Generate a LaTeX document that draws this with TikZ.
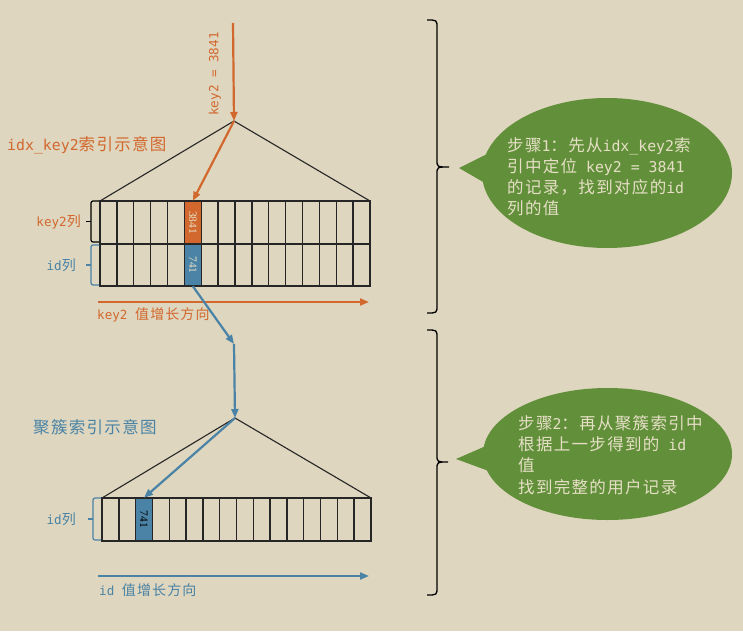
\documentclass[tikz,border=0pt]{standalone}
\usepackage{fontspec}
\usepackage{graphicx}
\setmainfont{Noto Sans CJK SC}[LetterSpace=8]
\newfontfamily\monof{DejaVu Sans Mono}[Scale=0.9]
\newfontfamily\numf{Liberation Serif}
\usetikzlibrary{arrows.meta,shapes.geometric}
\newcommand{\ml}[1]{{\monof #1}}
\newcommand{\fbig}{\fontsize{16.5}{21.3}\selectfont}
\newcommand{\fsmall}{\fontsize{14}{16}\selectfont}
\newcommand{\fnum}{\numf\fontsize{11.5}{11.5}\selectfont}
\definecolor{bg}{HTML}{DED6BE}
\definecolor{orA}{HTML}{D2682E}
\definecolor{blA}{HTML}{4A83A6}
\definecolor{grA}{HTML}{62903A}
\definecolor{txA}{HTML}{E6DFC6}
\definecolor{gridc}{HTML}{262626}
\begin{document}
\begin{tikzpicture}[x=1pt,y=-1pt,
  arrO/.style={draw=orA,line width=2.2pt,-{Triangle[length=9pt,width=7pt]}},
  arrB/.style={draw=blA,line width=2.2pt,-{Triangle[length=9pt,width=7pt]}},
  gridl/.style={draw=gridc,line width=1.4pt},
  tri/.style={draw=black!85,line width=1.1pt},
  cellbox/.style={inner sep=0pt,minimum height=43pt},
  lbl/.style={inner sep=0pt,font=\fsmall},
  head/.style={inner sep=0pt,font=\fbig},
  bubtext/.style={inner sep=0pt,align=left,text=txA,font=\fbig,anchor=north west},
  brc/.style={line width=1.2pt,rounded corners=2pt}]
\fill[bg] (0,0) rectangle (743,631);
\useasboundingbox (0,0) rectangle (743,631);

% ---------- upper index (idx_key2) ----------
\node[head,text=orA,anchor=west] (headA) at (7,145) {\ml{idx\_key2}索引示意图};
\coordinate (apexA) at (234,121);
\coordinate (topA) at (233,23);
\draw[tri] (100,201) -- (apexA) -- (370,201);
\node[cellbox,fill=orA,minimum width=16.875pt,text=txA] (k3841) at (192.81,222.5) {\rotatebox{-90}{\fnum 3841}};
\node[cellbox,fill=blA,minimum width=16.875pt,minimum height=42pt,text=txA] (i741) at (192.81,265) {\rotatebox{-90}{\fnum 741}};
\draw[gridl] (100,201) rectangle (370,286);
\draw[gridl] (100,244) -- (370,244);
\foreach \i in {1,...,15} {\draw[gridl] ({100+\i*16.875},201) -- ({100+\i*16.875},286);}
\node[lbl,text=orA,rotate=90] (lkeyv) at (215,74) {\ml{key2 = 3841}};
\draw[arrO] (topA) -- (apexA);
\draw[arrO] (apexA) -- (k3841.north);
% brackets
\node[lbl,text=orA,anchor=east] (lk2) at (81,222) {\ml{key2}列};
\draw[brc,black] (99,201) -- (91,201) -- (91,242) -- (99,242);
\draw[line width=1.2pt,black] (91,221.5) -- (86,221.5);
\node[lbl,text=blA,anchor=east] (lid) at (76,265) {\ml{id}列};
\draw[brc,blA] (99,245) -- (91,245) -- (91,285) -- (99,285);
\draw[line width=1.2pt,blA] (91,265) -- (86,265);
% growth arrow
\coordinate (gA1) at (98,302);
\coordinate (gA2) at (369,302);
\draw[arrO,line width=2pt] (gA1) -- (gA2);
\node[lbl,text=orA,anchor=west] (gAl) at (97,315) {\ml{key2 }值增长方向};

% ---------- link ----------
\coordinate (bend) at (234,344);
\coordinate (apexB) at (235,418);
\draw[arrB] (i741.south) -- (bend);
\draw[arrB] (bend) -- (apexB);

% ---------- clustered index ----------
\node[head,text=blA,anchor=west] (headB) at (33,427) {聚簇索引示意图};
\draw[tri] (102,498) -- (apexB) -- (371,498);
\node[cellbox,fill=blA,minimum width=16.81pt,text=black] (b741) at (144.0,519.5) {\rotatebox{-90}{\fnum 741}};
\draw[gridl] (102,498) rectangle (371,541);
\foreach \i in {1,...,15} {\draw[gridl] ({102+\i*16.8125},498) -- ({102+\i*16.8125},541);}
\draw[arrB] (apexB) -- (b741.north);
\node[lbl,text=blA,anchor=east] (lidB) at (76,519) {\ml{id}列};
\draw[brc,blA] (101,498) -- (93,498) -- (93,540) -- (101,540);
\draw[line width=1.2pt,blA] (93,519) -- (88,519);
\coordinate (gB1) at (98,576);
\coordinate (gB2) at (369,576);
\draw[arrB,line width=2pt] (gB1) -- (gB2);
\node[lbl,text=blA,anchor=west] (gBl) at (99,590) {\ml{id }值增长方向};

% ---------- right braces ----------
\draw[line width=1.3pt,black] (427,20) .. controls (437,20) .. (437,28) -- (437,160)
  .. controls (437,167) .. (449,167) .. controls (437,167) .. (437,174) -- (437,305)
  .. controls (437,313) .. (427,313);
\draw[line width=1.3pt,black] (427,330) .. controls (437,330) .. (437,338) -- (437,455)
  .. controls (437,462) .. (448,462) .. controls (437,462) .. (437,469) -- (437,587)
  .. controls (437,595) .. (427,595);

% ---------- bubbles ----------
\node[ellipse,fill=grA,minimum width=250pt,minimum height=150pt,inner sep=0pt] (bub1) at (607,173) {};
\coordinate (tip1) at (459,168);
\fill[grA] (495,150) -- (tip1) -- (497,190) -- cycle;
\node[bubtext] (t1) at (507,137) {步骤\ml{1}：先从\ml{idx\_key2}索\\引中定位\ml{ key2 = 3841}\\的记录，找到对应的\ml{id}\\列的值};

\node[ellipse,fill=grA,minimum width=249pt,minimum height=132pt,inner sep=0pt] (bub2) at (607.5,454) {};
\coordinate (tip2) at (456,459);
\fill[grA] (495,442) -- (tip2) -- (497,474) -- cycle;
\node[bubtext] (t2) at (518,415) {步骤\ml{2}：再从聚簇索引中\\根据上一步得到的\ml{ id}\\值\\找到完整的用户记录};
\end{tikzpicture}
\end{document}
